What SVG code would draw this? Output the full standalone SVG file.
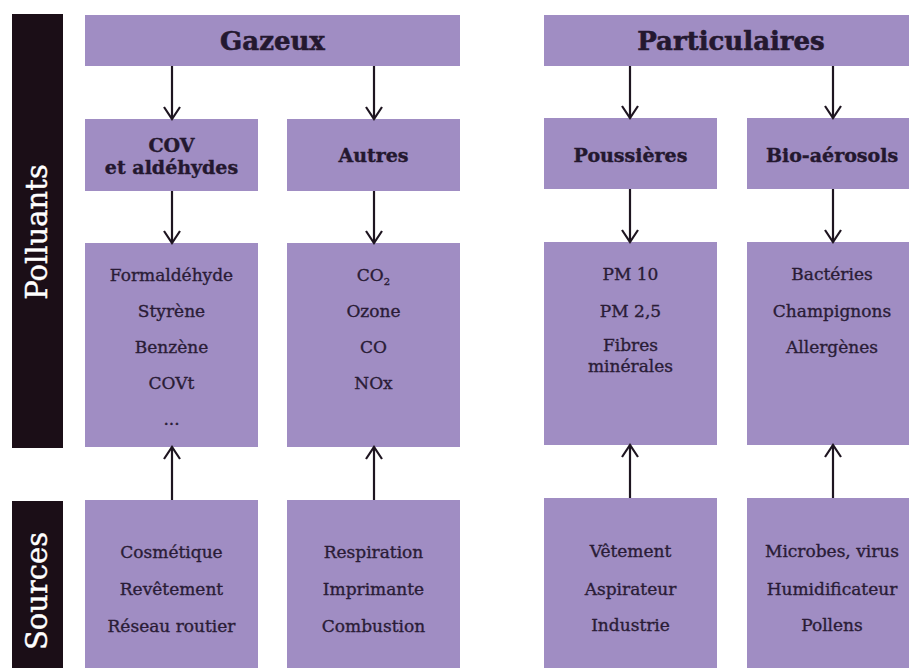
<svg xmlns="http://www.w3.org/2000/svg" width="909" height="668" viewBox="0 0 909 668">
<style>
.bar{fill:#1b0e17}
.box{fill:#a08dc3}
.bt{font-family:"DejaVu Serif","Liberation Serif",serif;fill:#ffffff;font-size:29px;stroke:#ffffff;stroke-width:0.4}
.h1{font-family:"DejaVu Serif","Liberation Serif",serif;font-weight:bold;fill:#24182f;font-size:26px;text-anchor:middle;stroke:#24182f;stroke-width:0.6}
.h2{font-family:"DejaVu Serif","Liberation Serif",serif;font-weight:bold;fill:#24182f;font-size:19px;text-anchor:middle;stroke:#24182f;stroke-width:0.4}
.it{font-family:"DejaVu Serif","Liberation Serif",serif;fill:#2a1c36;font-size:17px;text-anchor:middle;stroke:#2a1c36;stroke-width:0.35}
.ar{stroke:#1e1520;stroke-width:2.2;fill:none;marker-end:url(#ah)}
</style>
<defs>
<marker id="ah" markerUnits="userSpaceOnUse" markerWidth="20" markerHeight="20" viewBox="0 0 20 20" refX="15" refY="10" orient="auto">
<path d="M3,2 L15,10 L3,18" fill="none" stroke="#1e1520" stroke-width="2.2"/>
</marker>
</defs>
<rect width="909" height="668" fill="#ffffff"/>
<g id="bar-polluants">
<rect class="bar" x="12" y="14" width="51" height="434"/>
<text class="bt" transform="translate(47,232) rotate(-90)" text-anchor="middle">Polluants</text>
</g>
<g id="bar-sources">
<rect class="bar" x="12" y="501" width="51" height="167"/>
<text class="bt" transform="translate(47,591) rotate(-90)" text-anchor="middle">Sources</text>
</g>
<g id="gazeux">
<rect class="box" x="85" y="15" width="375" height="51"/>
<text class="h1" x="272.5" y="50">Gazeux</text>
</g>
<g id="particulaires">
<rect class="box" x="544" y="15" width="376" height="51"/>
<text class="h1" x="731" y="50">Particulaires</text>
</g>
<g id="cov">
<rect class="box" x="85" y="119" width="173" height="72"/>
<text class="h2" x="171.5" y="152">COV</text>
<text class="h2" x="171.5" y="174">et aldéhydes</text>
</g>
<g id="autres">
<rect class="box" x="287" y="119" width="173" height="72"/>
<text class="h2" x="373.5" y="162">Autres</text>
</g>
<g id="poussieres">
<rect class="box" x="544" y="118" width="173" height="71"/>
<text class="h2" x="630.5" y="162">Poussières</text>
</g>
<g id="bioaerosols">
<rect class="box" x="747" y="118" width="173" height="71"/>
<text class="h2" x="832" y="162">Bio-aérosols</text>
</g>
<g id="cov-list">
<rect class="box" x="85" y="243" width="173" height="204"/>
<text class="it" x="171.5" y="281">Formaldéhyde</text>
<text class="it" x="171.5" y="317">Styrène</text>
<text class="it" x="171.5" y="353">Benzène</text>
<text class="it" x="171.5" y="389">COVt</text>
<text class="it" x="171.5" y="425">...</text>
</g>
<g id="autres-list">
<rect class="box" x="287" y="243" width="173" height="204"/>
<text class="it" x="373.5" y="281">CO<tspan font-size="10" dy="4">2</tspan></text>
<text class="it" x="373.5" y="317">Ozone</text>
<text class="it" x="373.5" y="353">CO</text>
<text class="it" x="373.5" y="389">NOx</text>
</g>
<g id="poussieres-list">
<rect class="box" x="544" y="242" width="173" height="203"/>
<text class="it" x="630.5" y="280">PM 10</text>
<text class="it" x="630.5" y="317">PM 2,5</text>
<text class="it" x="630.5" y="351">Fibres</text>
<text class="it" x="630.5" y="372">minérales</text>
</g>
<g id="bio-list">
<rect class="box" x="747" y="242" width="173" height="203"/>
<text class="it" x="832" y="280">Bactéries</text>
<text class="it" x="832" y="317">Champignons</text>
<text class="it" x="832" y="353">Allergènes</text>
</g>
<g id="src-cov">
<rect class="box" x="85" y="500" width="173" height="168"/>
<text class="it" x="171.5" y="558">Cosmétique</text>
<text class="it" x="171.5" y="595">Revêtement</text>
<text class="it" x="171.5" y="632">Réseau routier</text>
</g>
<g id="src-autres">
<rect class="box" x="287" y="500" width="173" height="168"/>
<text class="it" x="373.5" y="558">Respiration</text>
<text class="it" x="373.5" y="595">Imprimante</text>
<text class="it" x="373.5" y="632">Combustion</text>
</g>
<g id="src-poussieres">
<rect class="box" x="544" y="498" width="173" height="170"/>
<text class="it" x="630.5" y="557">Vêtement</text>
<text class="it" x="630.5" y="595">Aspirateur</text>
<text class="it" x="630.5" y="631">Industrie</text>
</g>
<g id="src-bio">
<rect class="box" x="747" y="498" width="173" height="170"/>
<text class="it" x="832" y="557">Microbes, virus</text>
<text class="it" x="832" y="595">Humidificateur</text>
<text class="it" x="832" y="631">Pollens</text>
</g>
<g id="connectors">
<line class="ar" x1="172" y1="66" x2="172" y2="119"/>
<line class="ar" x1="374" y1="66" x2="374" y2="119"/>
<line class="ar" x1="630" y1="66" x2="630" y2="118"/>
<line class="ar" x1="833" y1="66" x2="833" y2="118"/>
<line class="ar" x1="172" y1="191" x2="172" y2="243"/>
<line class="ar" x1="374" y1="191" x2="374" y2="243"/>
<line class="ar" x1="630" y1="189" x2="630" y2="242"/>
<line class="ar" x1="833" y1="189" x2="833" y2="242"/>
<line class="ar" x1="172" y1="500" x2="172" y2="447"/>
<line class="ar" x1="374" y1="500" x2="374" y2="447"/>
<line class="ar" x1="630" y1="498" x2="630" y2="445"/>
<line class="ar" x1="833" y1="498" x2="833" y2="445"/>
</g>
</svg>
